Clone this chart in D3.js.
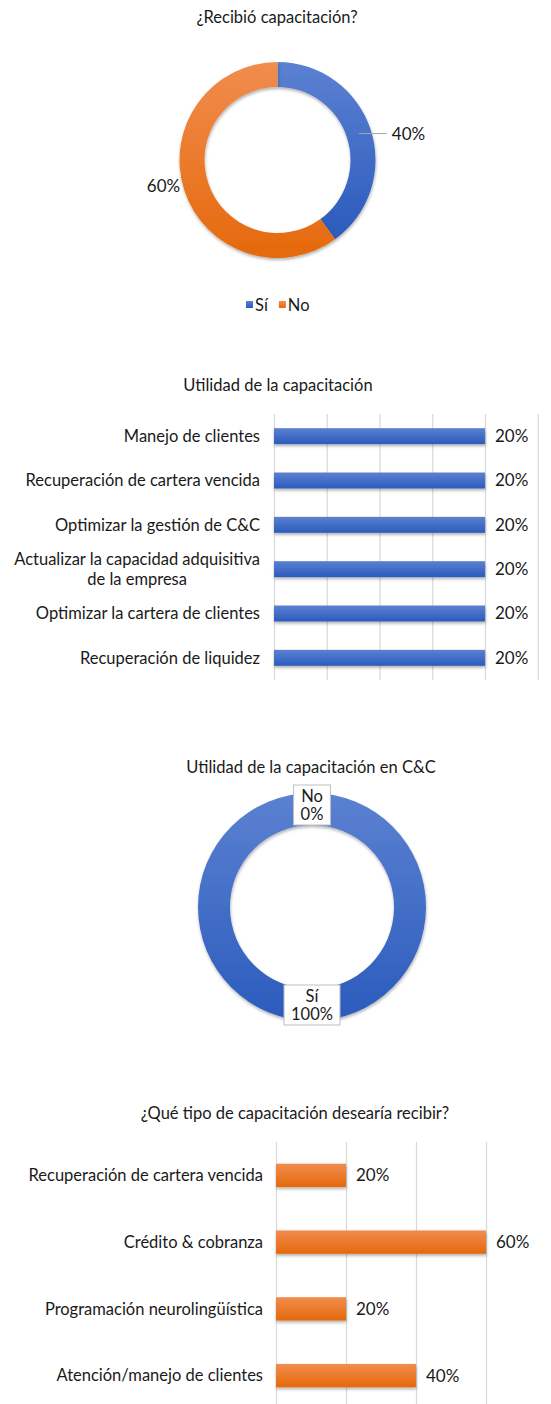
<!DOCTYPE html>
<html>
<head>
<meta charset="utf-8">
<script src="https://cdn.jsdelivr.net/npm/d3@7"></script>
<style>
    body { margin: 0; background: #fff; }
    svg text { font-family: Lato, "Open Sans", sans-serif; fill: #1a1a1a; }
</style>
</head>
<body>
<svg id="chart" width="551" height="1404"></svg>
<script>
// Datos de los cuatro gráficos
var recibioCats = ["Sí", "No"];
var recibioVals = [40, 60];

var utilidadCats = ["Manejo de clientes", "Recuperación de cartera vencida", "Optimizar la gestión de C&C",
    "Actualizar la capacidad adquisitiva\nde la empresa", "Optimizar la cartera de clientes", "Recuperación de liquidez"];
var utilidadVals = [20, 20, 20, 20, 20, 20];
var utilidadTicks = [0, 5, 10, 15, 20, 25];

var ccCats = ["Sí", "No"];
var ccVals = [100, 0];

var tipoCats = ["Recuperación de cartera vencida", "Crédito & cobranza", "Programación neurolingüística", "Atención/manejo de clientes"];
var tipoVals = [20, 60, 20, 40];
var tipoTicks = [0, 20, 40, 60];

var labelSize = "16.5px";
var valueSize = "17px";

var svg = d3.select("#chart");
var defs = svg.append("defs");

// Degradados estilo Excel
function gradient(id, top, bottom) {
    var g = defs.append("linearGradient").attr("id", id).attr("x1", 0).attr("y1", 0).attr("x2", 0).attr("y2", 1);
    g.append("stop").attr("offset", "0%").attr("stop-color", top);
    g.append("stop").attr("offset", "100%").attr("stop-color", bottom);
}
gradient("blue", "#5b81d1", "#2b5bbd");
gradient("orange", "#f18c4e", "#e5690b");
var fills = { "Sí": "url(#blue)", "No": "url(#orange)" };

var shadow = defs.append("filter").attr("id", "shadow").attr("x", "-20%").attr("y", "-20%").attr("width", "140%").attr("height", "160%");
shadow.append("feDropShadow").attr("dx", 0.5).attr("dy", 2).attr("stdDeviation", 1.5).attr("flood-color", "#000").attr("flood-opacity", 0.3);

function title(text, x, y) {
    svg.append("text").attr("x", x).attr("y", y).attr("text-anchor", "middle").style("font-size", labelSize).text(text);
}

// ---------------- Gráfico 1: dona ----------------
title("¿Recibió capacitación?", 277, 23);
var c1 = { x: 277.5, y: 160, r0: 73, r1: 98 };
var pie = d3.pie().sort(null).value(function (d) { return d.v; });
var arc1 = d3.arc().innerRadius(c1.r0).outerRadius(c1.r1);
var data1 = recibioCats.map(function (c, i) { return { c: c, v: recibioVals[i] }; });
var g1 = svg.append("g").attr("transform", "translate(" + c1.x + "," + c1.y + ")");
var slices1 = pie(data1);
g1.selectAll("path").data(slices1).enter().append("path")
    .attr("d", arc1).attr("fill", function (d) { return fills[d.data.c]; })
    .attr("filter", "url(#shadow)");

slices1.forEach(function (d) {
    var p = arc1.centroid(d);
    if (d.data.c == "Sí") {
        g1.append("line").attr("x1", p[0]).attr("y1", p[1]).attr("x2", p[0] + 28).attr("y2", p[1])
            .attr("stroke", "#a6a6a6").attr("stroke-width", 1);
        g1.append("text").attr("x", p[0] + 33).attr("y", p[1]).attr("dy", "0.35em").style("font-size", valueSize).text(d.data.v + "%");
    } else {
        g1.append("text").attr("x", p[0] - 16).attr("y", p[1]).attr("dy", "0.35em").attr("text-anchor", "end").style("font-size", valueSize).text(d.data.v + "%");
    }
});

// Leyenda
var legend = svg.append("g").attr("transform", "translate(246,305)");
var lx = 0;
recibioCats.forEach(function (c) {
    legend.append("rect").attr("x", lx).attr("y", -4).attr("width", 7).attr("height", 7).attr("fill", fills[c]);
    var t = legend.append("text").attr("x", lx + 9).attr("y", 0).attr("dy", "0.35em").style("font-size", labelSize).text(c);
    lx += 9 + t.node().getComputedTextLength() + 11;
});

// ---------------- Barras horizontales ----------------
function barChart(cats, vals, ticks, opt) {
    var x = d3.scaleLinear().domain([0, ticks[ticks.length - 1]]).range([opt.x0, opt.x1]);
    var y = d3.scaleBand().domain(cats).range([opt.y0, opt.y1]).paddingInner(opt.pad).paddingOuter(opt.pad / 2);
    var g = svg.append("g");

    var axis = d3.axisBottom(x).tickValues(ticks).tickSize(opt.y1 - opt.y0).tickFormat("");
    g.append("g").attr("transform", "translate(0," + opt.y0 + ")").call(axis)
        .call(function (s) { s.select(".domain").remove(); })
        .selectAll("line").attr("stroke", "#d9d9d9").attr("stroke-width", 1.2);

    g.selectAll("rect.bar").data(cats).enter().append("rect").attr("class", "bar")
        .attr("x", x(0)).attr("y", function (d) { return y(d); })
        .attr("width", function (d, i) { return x(vals[i]) - x(0); })
        .attr("height", y.bandwidth())
        .attr("fill", opt.fill).attr("filter", "url(#shadow)");

    g.selectAll("text.val").data(cats).enter().append("text").attr("class", "val")
        .attr("x", function (d, i) { return x(vals[i]) + 10; })
        .attr("y", function (d) { return y(d) + y.bandwidth() / 2; })
        .attr("dy", "0.35em").style("font-size", valueSize)
        .text(function (d, i) { return vals[i] + "%"; });

    cats.forEach(function (c) {
        var lines = c.split("\n");
        var cy = y(c) + y.bandwidth() / 2;
        var t = g.append("text").style("font-size", labelSize);
        if (lines.length == 1) {
            t.attr("x", opt.lx).attr("y", cy).attr("dy", "0.35em").attr("text-anchor", "end").text(c);
        } else {
            // etiqueta de dos líneas centrada
            t.attr("text-anchor", "middle");
            lines.forEach(function (l, i) {
                t.append("tspan").attr("x", 0).attr("y", cy + (i - (lines.length - 1) / 2) * 20).attr("dy", "0.35em").text(l);
            });
            var w = t.node().getBBox().width;
            t.selectAll("tspan").attr("x", opt.lx - w / 2);
        }
    });
}

title("Utilidad de la capacitación", 278, 391);
barChart(utilidadCats, utilidadVals, utilidadTicks,
    { x0: 274, x1: 537.7, y0: 414, y1: 680, pad: 0.64, fill: "url(#blue)", lx: 260 });

// ---------------- Gráfico 3: dona ----------------
title("Utilidad de la capacitación en C&C", 311, 773);
var c3 = { x: 312, y: 907, r0: 82, r1: 114 };
var arc3 = d3.arc().innerRadius(c3.r0).outerRadius(c3.r1);
var data3 = ccCats.map(function (c, i) { return { c: c, v: ccVals[i] }; });
var g3 = svg.append("g").attr("transform", "translate(" + c3.x + "," + c3.y + ")");
var slices3 = pie(data3);
g3.selectAll("path").data(slices3).enter().append("path")
    .attr("d", arc3).attr("fill", "url(#blue)").attr("filter", "url(#shadow)");

slices3.forEach(function (d) {
    var p = arc3.centroid(d);
    var lbl = g3.append("g").attr("transform", "translate(" + p[0] + "," + (p[1] + (d.data.v == 0 ? -4 : 0)) + ")");
    var t = lbl.append("text").attr("text-anchor", "middle").style("font-size", labelSize);
    t.append("tspan").attr("x", 0).attr("y", -9).attr("dy", "0.35em").text(d.data.c);
    t.append("tspan").attr("x", 0).attr("y", 9).attr("dy", "0.35em").text(d.data.v + "%");
    var b = t.node().getBBox();
    lbl.insert("rect", "text").attr("x", b.x - 7).attr("y", -20).attr("width", b.width + 14).attr("height", 40)
        .attr("fill", "#fff").attr("stroke", "#bfbfbf").attr("stroke-width", 1);
});

// ---------------- Gráfico 4 ----------------
title("¿Qué tipo de capacitación desearía recibir?", 295, 1119);
barChart(tipoCats, tipoVals, tipoTicks,
    { x0: 276, x1: 486, y0: 1142, y1: 1409, pad: 0.65, fill: "url(#orange)", lx: 263 });
</script>
</body>
</html>
